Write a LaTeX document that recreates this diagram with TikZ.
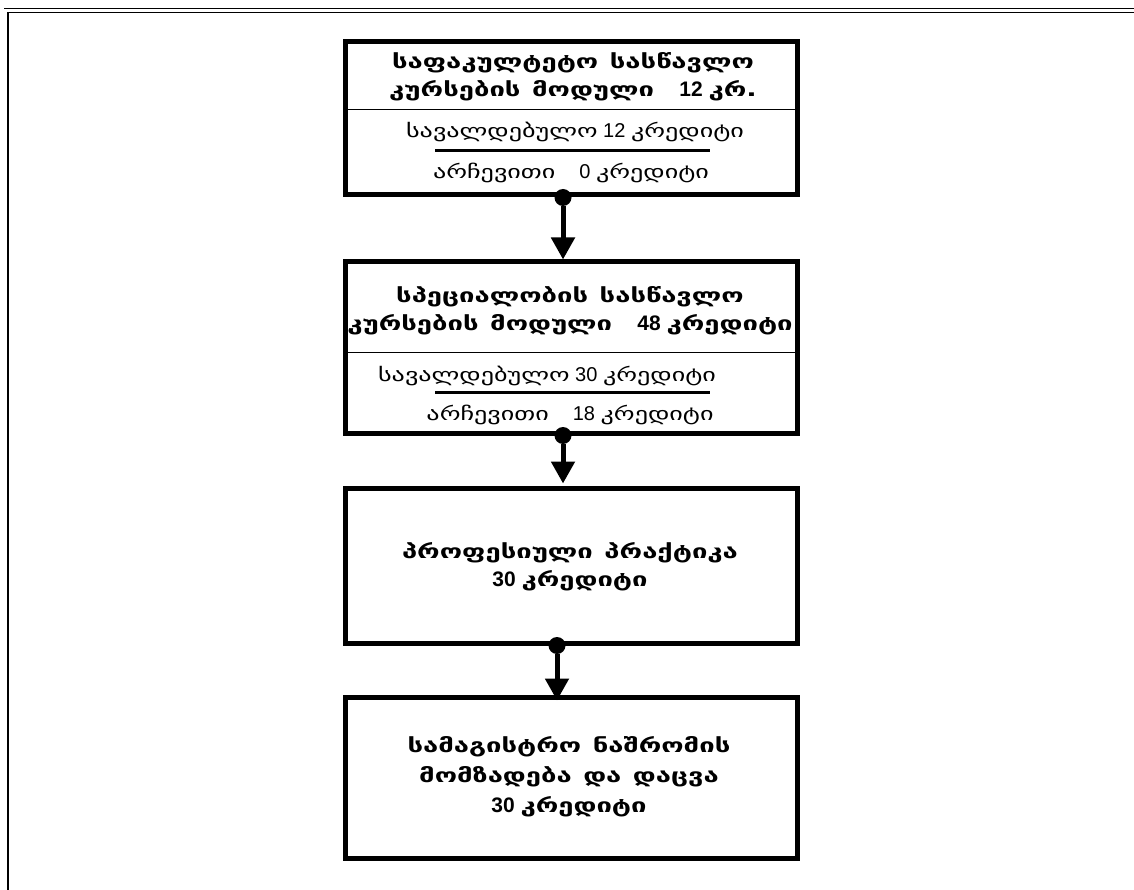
\documentclass[tikz,border=0pt]{standalone}
\usepackage{fontspec}
\setmainfont{Liberation Sans}
\newfontfamily\geo[Scale=0.92,FakeStretch=1.42]{DejaVu Sans}
\usepackage{tikz}
\usetikzlibrary{%
  arrows.meta,
  calc,
  positioning
}
\tikzset{>=stealth}
\newcommand{\ka}[1]{{\geo #1}}
\newcommand{\gap}{\hspace{0.6em}}

\begin{document}
\begin{tikzpicture}[x=1pt,y=-1pt]
      \tikzset{box/.style={draw,line width=5pt,minimum width=452pt,inner sep=0pt}}
      \tikzset{title/.style={font=\bfseries\fontsize{21}{28}\selectfont,align=center}}
      \tikzset{sub/.style={font=\fontsize{20}{24}\selectfont}}
      \tikzset{flow/.style={line width=5pt,-{Triangle[width=23pt,length=22pt]}}}
      \tikzset{dot/.style={circle,fill,inner sep=0pt,minimum size=17pt}}
      \tikzset{rule/.style={line width=#1}}

      \useasboundingbox (0,0) rectangle (1134,890);
      % page frame
      \draw[rule=1pt] (4,9) -- (1134,9);
      \draw[rule=1.6pt] (1134,12.5) -- (8,12.5) -- (8,890);

      \node[box,minimum height=153pt] (B1) at (571.5,118.5) {};
      \node[box,minimum height=171pt] (B2) at (571.5,347.5) {};
      \node[box,minimum height=155pt] (B3) at (571.5,565.5) {};
      \node[box,minimum height=161pt] (B4) at (571.5,777.5) {};

      % first module
      \node[title] (T1) at (573,76.5) {\ka{საფაკულტეტო\gap სასწავლო}\\
        \ka{კურსების\gap მოდული}\gap\gap 12 \ka{კრ.}};
      \draw[rule=1.5pt] ($(B1.north west)+(0,70)$) -- ($(B1.north east)+(0,70)$);
      \node[sub] (S11) at (575,132) {\ka{სავალდებულო} 12 \ka{კრედიტი}};
      \draw[rule=2.5pt] ($(B1.north)+(-136.5,111)$) -- ($(B1.north)+(138.5,111)$);
      \node[sub] (S12) at (571,173) {\ka{არჩევითი}\gap\gap 0 \ka{კრედიტი}};

      % second module
      \node[title] (T2) at (570,311) {\ka{სპეციალობის\gap სასწავლო}\\
        \ka{კურსების\gap მოდული}\gap\gap 48 \ka{კრედიტი}};
      \draw[rule=1.5pt] ($(B2.north west)+(0,93)$) -- ($(B2.north east)+(0,93)$);
      \node[sub] (S21) at (547,376) {\ka{სავალდებულო} 30 \ka{კრედიტი}};
      \draw[rule=2.5pt] ($(B2.north)+(-136.5,133)$) -- ($(B2.north)+(138.5,133)$);
      \node[sub] (S22) at (570,415) {\ka{არჩევითი}\gap\gap 18 \ka{კრედიტი}};

      \node[title] (T3) at (570,567) {\ka{პროფესიული\gap პრაქტიკა}\\
        30 \ka{კრედიტი}};
      \node[title,font=\bfseries\fontsize{21}{30}\selectfont] (T4) at (569,777)
        {\ka{სამაგისტრო\gap ნაშრომის}\\\ka{მომზადება\gap და\gap დაცვა}\\30 \ka{კრედიტი}};

      % links
      \node[dot] (D1) at ([xshift=-8.5pt]B1.south) {};
      \node[dot] (D2) at ([xshift=-8.5pt]B2.south) {};
      \node[dot] (D3) at ([xshift=-14.5pt]B3.south) {};
      \draw[flow] (D1) -- (B2.north -| D1);
      \draw[flow] (D2) -- ($(B3.north -| D2)+(0,-2)$);
      \draw[flow] (D3) -- ($(B4.north -| D3)+(0,6)$);
\end{tikzpicture}
\end{document}
